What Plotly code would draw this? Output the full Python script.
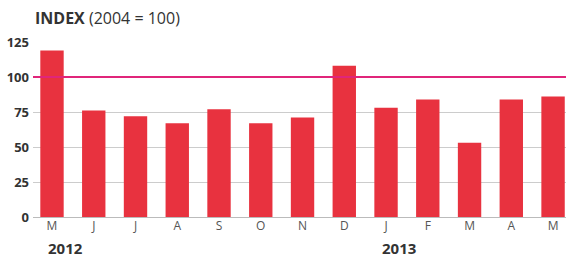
import plotly.graph_objects as go

months = ["M", "J", "J", "A", "S", "O", "N", "D", "J", "F", "M", "A", "M"]
values = [119, 76, 72, 67, 77, 67, 71, 108, 78, 84, 53, 84, 86]
years = ["2012", "2013"]
year_pos = [0, 8]
y_ticks = [0, 25, 50, 75, 100, 125]
reference = 100

x = list(range(len(months)))

fig = go.Figure()
fig.add_trace(go.Bar(x=x, y=values, marker=dict(color="#E8323F", line=dict(width=0)),
                     width=0.56, hoverinfo="skip"))

fig.add_shape(type="line", xref="paper", yref="y", x0=0, x1=1, y0=reference, y1=reference,
              line=dict(color="#E0257A", width=2), layer="above")

for yr, p in zip(years, year_pos):
    fig.add_annotation(x=p - 0.15, y=0, xref="x", yref="paper", yshift=-19,
                       text="<b>" + yr + "</b>", showarrow=False, xanchor="left", yanchor="top",
                       font=dict(family="Open Sans", size=15, color="#333333"))

fig.add_annotation(x=0, y=1, xref="paper", yref="paper", yshift=24, xanchor="left", yanchor="middle",
                   text="<b>INDEX</b> (2004 = 100)", showarrow=False,
                   font=dict(family="Open Sans", size=16, color="#333333"))

fig.update_layout(
    width=566, height=257,
    margin=dict(l=33, r=0, t=42, b=40, autoexpand=False),
    paper_bgcolor="white", plot_bgcolor="white",
    showlegend=False,
    bargap=0.44,
    xaxis=dict(range=[-0.455, 12.31], tickvals=x, ticktext=months, showgrid=False,
               zeroline=False, showline=False, ticks="", automargin=False,
               tickfont=dict(family="Open Sans", size=12, color="#555555")),
    yaxis=dict(range=[0, 125], tickvals=y_ticks, showgrid=True, gridcolor="#CCCCCC", gridwidth=1,
               zeroline=True, zerolinecolor="#BBBBBB", zerolinewidth=1, ticks="",
               ticklabelstandoff=3, automargin=False,
               tickfont=dict(family="Open Sans", size=13, color="#333333", weight="bold")),
)

fig.write_html("out.html", config={"displayModeBar": False},
               post_script="document.body.style.margin='0';document.body.style.overflow='hidden';")
